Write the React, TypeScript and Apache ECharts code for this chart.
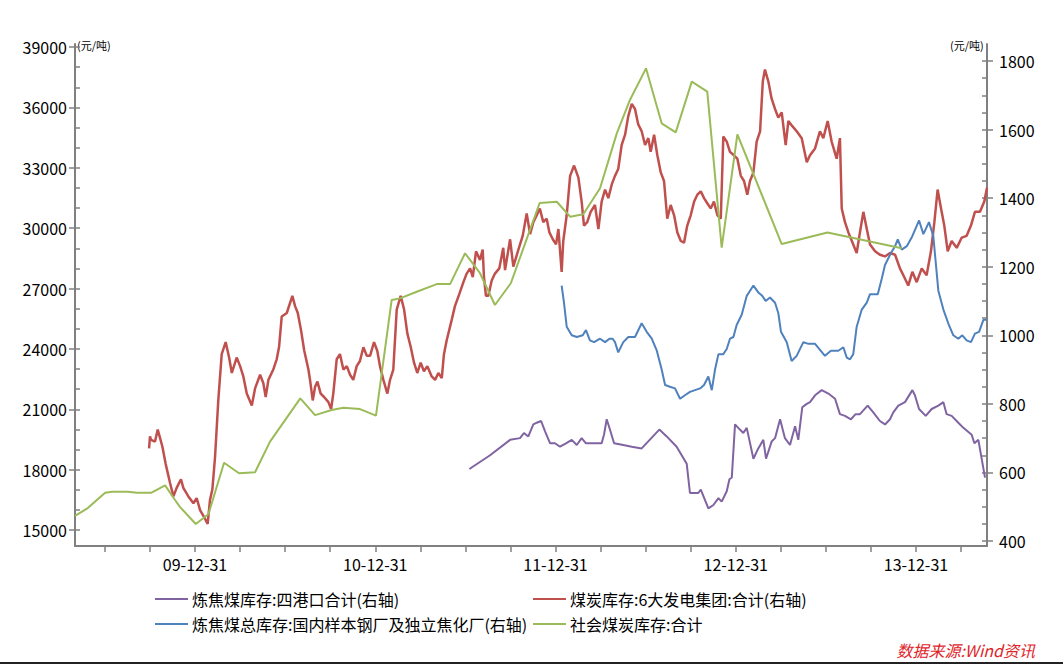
import React, { useEffect, useRef } from "react";
import * as echarts from "echarts";

// ---- texts ----
const seriesNames = [
  "炼焦煤库存:四港口合计(右轴)",
  "煤炭库存:6大发电集团:合计(右轴)",
  "炼焦煤总库存:国内样本钢厂及独立焦化厂(右轴)",
  "社会煤炭库存:合计",
];
const unitText = "(元/吨)";
const sourceText = "数据来源:Wind资讯";

// ---- axes (x in decimal years) ----
const xMin = 2009.334;
const xMax = 2014.394;
const xLabelYears = [2010, 2011, 2012, 2013, 2014];
const xLabelTexts = ["09-12-31", "10-12-31", "11-12-31", "12-12-31", "13-12-31"];
const xQuarterTicks = [
  2009.5, 2009.75, 2010, 2010.25, 2010.5, 2010.75, 2011, 2011.25, 2011.5, 2011.75,
  2012, 2012.25, 2012.5, 2012.75, 2013, 2013.25, 2013.5, 2013.75, 2014, 2014.25,
];
const leftMin = 14205;
const leftMax = 39150;
const leftLabels = [15000, 18000, 21000, 24000, 27000, 30000, 33000, 36000, 39000];
const leftMinorTicks = [
  15000, 16000, 17000, 18000, 19000, 20000, 21000, 22000, 23000, 24000, 25000, 26000, 27000,
  28000, 29000, 30000, 31000, 32000, 33000, 34000, 35000, 36000, 37000, 38000, 39000,
];
const rightMin = 385.4;
const rightMax = 1849.6;
const rightLabels = [400, 600, 800, 1000, 1200, 1400, 1600, 1800];
const rightMinorTicks = [
  400, 450, 500, 550, 600, 650, 700, 750, 800, 850, 900, 950, 1000, 1050, 1100, 1150, 1200,
  1250, 1300, 1350, 1400, 1450, 1500, 1550, 1600, 1650, 1700, 1750, 1800,
];

// ---- data: [decimal year, value] ----
const greenSocial = [
  [2009.334, 15700], [2009.405, 16090], [2009.501, 16850], [2009.541, 16900], [2009.628, 16900],
  [2009.677, 16850], [2009.756, 16850], [2009.834, 17220], [2009.889, 16490], [2009.917, 16140],
  [2010.004, 15300], [2010.074, 15780], [2010.161, 18340], [2010.244, 17820], [2010.333, 17870],
  [2010.416, 19390], [2010.584, 21540], [2010.666, 20710], [2010.758, 20960], [2010.823, 21080],
  [2010.915, 21010], [2011.004, 20680], [2011.091, 26430], [2011.137, 26510], [2011.230, 26840],
  [2011.341, 27220], [2011.415, 27220], [2011.498, 28750], [2011.581, 27760], [2011.664, 26180],
  [2011.752, 27260], [2011.825, 29080], [2011.912, 31250], [2012.007, 31310], [2012.081, 30570],
  [2012.154, 30690], [2012.247, 31980], [2012.340, 34710], [2012.413, 36370], [2012.502, 37940],
  [2012.589, 35210], [2012.667, 34760], [2012.756, 37280], [2012.842, 36780], [2012.922, 29030],
  [2013.009, 34660], [2013.255, 29210], [2013.509, 29780], [2013.921, 29000],
];

const redPower = [
  [2009.745, 670], [2009.750, 705], [2009.756, 695], [2009.778, 690], [2009.793, 725],
  [2009.806, 700], [2009.819, 675], [2009.837, 625], [2009.861, 570], [2009.880, 530],
  [2009.898, 555], [2009.922, 580], [2009.935, 555], [2009.963, 530], [2009.991, 510],
  [2010.009, 525], [2010.028, 490], [2010.055, 465], [2010.070, 450], [2010.083, 520],
  [2010.096, 550], [2010.111, 645], [2010.129, 810], [2010.148, 945], [2010.170, 980],
  [2010.189, 935], [2010.204, 890], [2010.231, 935], [2010.250, 910], [2010.268, 880],
  [2010.287, 830], [2010.315, 795], [2010.333, 845], [2010.361, 885], [2010.379, 860],
  [2010.392, 820], [2010.407, 870], [2010.434, 900], [2010.453, 930], [2010.466, 965],
  [2010.481, 1055], [2010.509, 1065], [2010.540, 1115], [2010.555, 1085], [2010.570, 1065],
  [2010.588, 1015], [2010.606, 955], [2010.629, 900], [2010.638, 870], [2010.653, 810],
  [2010.666, 850], [2010.679, 865], [2010.697, 830], [2010.716, 820], [2010.740, 805],
  [2010.755, 785], [2010.767, 830], [2010.786, 930], [2010.804, 945], [2010.823, 900],
  [2010.842, 910], [2010.860, 885], [2010.878, 870], [2010.897, 910], [2010.915, 925],
  [2010.934, 965], [2010.953, 940], [2010.971, 940], [2010.993, 980], [2011.011, 955],
  [2011.026, 910], [2011.045, 870], [2011.067, 830], [2011.082, 870], [2011.100, 900],
  [2011.119, 1075], [2011.141, 1115], [2011.160, 1075], [2011.178, 1005], [2011.197, 965],
  [2011.215, 920], [2011.233, 890], [2011.252, 920], [2011.270, 895], [2011.289, 910],
  [2011.313, 880], [2011.332, 870], [2011.350, 890], [2011.369, 875], [2011.381, 945],
  [2011.396, 985], [2011.424, 1045], [2011.442, 1085], [2011.466, 1120], [2011.489, 1155],
  [2011.507, 1180], [2011.526, 1195], [2011.541, 1170], [2011.559, 1245], [2011.581, 1220],
  [2011.596, 1250], [2011.603, 1170], [2011.614, 1115], [2011.627, 1115], [2011.646, 1160],
  [2011.664, 1180], [2011.688, 1195], [2011.710, 1255], [2011.720, 1190], [2011.748, 1280],
  [2011.766, 1200], [2011.794, 1250], [2011.818, 1290], [2011.840, 1355], [2011.859, 1295],
  [2011.877, 1330], [2011.896, 1350], [2011.913, 1370], [2011.932, 1330], [2011.951, 1340],
  [2011.966, 1300], [2011.985, 1280], [2012.003, 1265], [2012.016, 1310], [2012.034, 1185],
  [2012.043, 1275], [2012.062, 1350], [2012.081, 1465], [2012.103, 1495], [2012.127, 1460],
  [2012.145, 1390], [2012.158, 1320], [2012.176, 1330], [2012.195, 1360], [2012.219, 1380],
  [2012.238, 1310], [2012.256, 1390], [2012.275, 1425], [2012.293, 1400], [2012.312, 1440],
  [2012.330, 1465], [2012.348, 1485], [2012.367, 1555], [2012.386, 1585], [2012.404, 1640],
  [2012.423, 1675], [2012.441, 1660], [2012.459, 1615], [2012.478, 1595], [2012.497, 1555],
  [2012.515, 1575], [2012.528, 1535], [2012.547, 1585], [2012.565, 1525], [2012.584, 1475],
  [2012.602, 1450], [2012.620, 1340], [2012.639, 1380], [2012.658, 1350], [2012.676, 1300],
  [2012.695, 1275], [2012.713, 1270], [2012.731, 1320], [2012.750, 1350], [2012.769, 1390],
  [2012.787, 1410], [2012.806, 1420], [2012.824, 1400], [2012.842, 1385], [2012.861, 1370],
  [2012.879, 1390], [2012.898, 1350], [2012.917, 1340], [2012.931, 1580], [2012.950, 1565],
  [2012.968, 1535], [2012.990, 1525], [2013.009, 1515], [2013.028, 1465], [2013.046, 1450],
  [2013.064, 1410], [2013.079, 1450], [2013.098, 1475], [2013.116, 1565], [2013.135, 1595],
  [2013.150, 1740], [2013.162, 1775], [2013.181, 1740], [2013.199, 1690], [2013.218, 1660],
  [2013.236, 1635], [2013.255, 1650], [2013.277, 1555], [2013.292, 1625], [2013.314, 1610],
  [2013.338, 1595], [2013.366, 1575], [2013.394, 1505], [2013.412, 1525], [2013.440, 1545],
  [2013.467, 1595], [2013.486, 1575], [2013.510, 1625], [2013.532, 1565], [2013.560, 1515],
  [2013.578, 1575], [2013.588, 1370], [2013.606, 1330], [2013.625, 1300], [2013.652, 1265],
  [2013.671, 1240], [2013.689, 1300], [2013.708, 1360], [2013.727, 1310], [2013.745, 1265],
  [2013.773, 1245], [2013.800, 1235], [2013.828, 1230], [2013.856, 1240], [2013.884, 1235],
  [2013.911, 1195], [2013.930, 1175], [2013.957, 1145], [2013.980, 1185], [2014.004, 1155],
  [2014.032, 1195], [2014.059, 1175], [2014.083, 1245], [2014.102, 1330], [2014.120, 1425],
  [2014.139, 1370], [2014.157, 1320], [2014.176, 1245], [2014.198, 1275], [2014.226, 1255],
  [2014.254, 1285], [2014.281, 1290], [2014.305, 1320], [2014.327, 1360], [2014.355, 1360],
  [2014.379, 1390], [2014.394, 1430],
];

const blueSteel = [
  [2012.034, 1145], [2012.047, 1095], [2012.062, 1025], [2012.090, 1000], [2012.118, 995],
  [2012.151, 1000], [2012.169, 1015], [2012.191, 985], [2012.214, 980], [2012.247, 990],
  [2012.275, 980], [2012.299, 990], [2012.317, 990], [2012.330, 980], [2012.348, 950],
  [2012.376, 980], [2012.404, 995], [2012.441, 995], [2012.478, 1035], [2012.506, 1010],
  [2012.534, 990], [2012.562, 955], [2012.589, 900], [2012.608, 855], [2012.635, 850],
  [2012.663, 845], [2012.691, 815], [2012.718, 825], [2012.746, 835], [2012.774, 840],
  [2012.802, 845], [2012.824, 855], [2012.848, 880], [2012.867, 840], [2012.885, 900],
  [2012.904, 945], [2012.931, 945], [2012.950, 960], [2012.968, 990], [2012.987, 995],
  [2013.005, 1030], [2013.033, 1060], [2013.061, 1115], [2013.098, 1145], [2013.125, 1125],
  [2013.147, 1115], [2013.166, 1100], [2013.190, 1110], [2013.218, 1095], [2013.236, 1065],
  [2013.251, 1010], [2013.283, 980], [2013.310, 925], [2013.338, 940], [2013.375, 980],
  [2013.403, 975], [2013.440, 975], [2013.495, 940], [2013.528, 955], [2013.569, 955],
  [2013.597, 965], [2013.616, 935], [2013.634, 930], [2013.652, 945], [2013.671, 1025],
  [2013.699, 1075], [2013.727, 1095], [2013.745, 1120], [2013.788, 1120], [2013.810, 1165],
  [2013.828, 1205], [2013.861, 1240], [2013.884, 1260], [2013.899, 1280], [2013.921, 1250],
  [2013.949, 1260], [2013.976, 1285], [2014.017, 1335], [2014.041, 1295], [2014.072, 1330],
  [2014.096, 1290], [2014.124, 1130], [2014.152, 1075], [2014.179, 1035], [2014.207, 1000],
  [2014.235, 990], [2014.257, 1000], [2014.281, 985], [2014.305, 980], [2014.327, 1005],
  [2014.350, 1010], [2014.374, 1045], [2014.392, 1045],
];

const purplePorts = [
  [2011.522, 610], [2011.637, 650], [2011.748, 695], [2011.803, 700], [2011.825, 715],
  [2011.849, 705], [2011.877, 740], [2011.896, 745], [2011.920, 750], [2011.942, 720],
  [2011.970, 685], [2011.997, 685], [2012.025, 675], [2012.058, 685], [2012.090, 695],
  [2012.118, 680], [2012.145, 700], [2012.169, 685], [2012.201, 685], [2012.229, 685],
  [2012.256, 685], [2012.269, 710], [2012.284, 755], [2012.302, 725], [2012.325, 685],
  [2012.376, 680], [2012.423, 675], [2012.478, 670], [2012.576, 725], [2012.617, 705],
  [2012.672, 675], [2012.728, 625], [2012.746, 540], [2012.792, 540], [2012.806, 550],
  [2012.848, 495], [2012.876, 505], [2012.904, 525], [2012.922, 515], [2012.950, 545],
  [2012.965, 580], [2012.978, 585], [2012.996, 740], [2013.023, 725], [2013.042, 715],
  [2013.061, 730], [2013.098, 640], [2013.125, 670], [2013.153, 695], [2013.168, 640],
  [2013.199, 690], [2013.218, 700], [2013.246, 755], [2013.273, 700], [2013.301, 680],
  [2013.329, 735], [2013.347, 695], [2013.369, 790], [2013.394, 800], [2013.412, 805],
  [2013.440, 825], [2013.477, 840], [2013.514, 830], [2013.551, 815], [2013.578, 770],
  [2013.606, 765], [2013.639, 755], [2013.665, 770], [2013.689, 770], [2013.732, 795],
  [2013.763, 775], [2013.800, 750], [2013.828, 740], [2013.856, 755], [2013.874, 775],
  [2013.902, 795], [2013.939, 805], [2013.980, 840], [2013.994, 825], [2014.017, 785],
  [2014.054, 765], [2014.087, 785], [2014.124, 795], [2014.152, 805], [2014.170, 770],
  [2014.198, 765], [2014.235, 745], [2014.263, 730], [2014.309, 710], [2014.324, 685],
  [2014.346, 695], [2014.383, 585],
];

const colors = ["#8064A2", "#C0504D", "#4F81BD", "#9BBB59"];
const FONT = "'Noto Sans CJK SC', 'Noto Sans', sans-serif";

export default function App() {
  const ref = useRef<HTMLDivElement>(null);

  useEffect(() => {
    if (!ref.current) return;
    const chart = echarts.init(ref.current, undefined, { renderer: "svg" });
    const axisColor = "#808080";
    const axisLineStyle = { color: axisColor, width: 2 };
    const tickStyle = { color: axisColor, width: 1.5 };
    const labelStyle = { color: "#000", fontSize: 16, fontFamily: FONT };
    const plain = (v: number) => String(Math.round(v));

    const seriesData = [purplePorts, redPower, blueSteel, greenSocial];
    const axisIdx = [2, 2, 2, 0];
    const legendPos = [
      [155, 591],
      [533, 591],
      [155, 616],
      [533, 616],
    ];

    const option: any = {
      animation: false,
      backgroundColor: "#fff",
      grid: { left: 75, right: 76, top: 44, bottom: 118, containLabel: false },
      xAxis: {
        type: "value",
        min: xMin,
        max: xMax,
        splitLine: { show: false },
        axisLine: { show: true, lineStyle: axisLineStyle, onZero: false },
        axisTick: { show: true, customValues: xQuarterTicks, length: 6, lineStyle: tickStyle },
        axisLabel: {
          customValues: xLabelYears,
          margin: 10,
          ...labelStyle,
          formatter: (v: number) => {
            const i = xLabelYears.findIndex((y) => Math.abs(y - v) < 0.01);
            return i >= 0 ? xLabelTexts[i] : "";
          },
        },
      },
      yAxis: [
        {
          type: "value",
          position: "left",
          min: leftMin,
          max: leftMax,
          splitLine: { show: false },
          axisLine: { show: true, lineStyle: axisLineStyle },
          axisTick: { show: true, customValues: leftLabels, length: 6, lineStyle: tickStyle },
          axisLabel: { customValues: leftLabels, margin: 8, formatter: plain, ...labelStyle },
        },
        {
          type: "value",
          position: "left",
          min: leftMin,
          max: leftMax,
          splitLine: { show: false },
          axisLine: { show: false },
          axisTick: { show: true, inside: true, customValues: leftMinorTicks, length: 5, lineStyle: tickStyle },
          axisLabel: { show: false },
        },
        {
          type: "value",
          position: "right",
          min: rightMin,
          max: rightMax,
          splitLine: { show: false },
          axisLine: { show: true, lineStyle: axisLineStyle },
          axisTick: { show: true, customValues: rightLabels, length: 6, lineStyle: tickStyle },
          axisLabel: { customValues: rightLabels, margin: 12, formatter: plain, ...labelStyle },
        },
        {
          type: "value",
          position: "right",
          min: rightMin,
          max: rightMax,
          splitLine: { show: false },
          axisLine: { show: false },
          axisTick: { show: true, inside: true, customValues: rightMinorTicks, length: 5, lineStyle: tickStyle },
          axisLabel: { show: false },
        },
      ],
      legend: seriesNames.map((name, i) => ({
        data: [name],
        left: legendPos[i][0],
        top: legendPos[i][1],
        icon: "rect",
        itemWidth: 33,
        itemHeight: 2,
        padding: 0,
        selectedMode: false,
        textStyle: { color: "#000", fontSize: 16, fontFamily: FONT, padding: [0, 0, 0, -1] },
      })),
      series: seriesNames.map((name, i) => ({
        name,
        type: "line",
        yAxisIndex: axisIdx[i],
        data: seriesData[i],
        showSymbol: false,
        symbol: "none",
        smooth: false,
        color: colors[i],
        lineStyle: { color: colors[i], width: i === 1 ? 2.5 : 2 },
        clip: true,
      })),
      graphic: [
        {
          type: "text",
          left: 77,
          top: 39,
          style: { text: unitText, fill: "#000", font: `11px ${FONT}` },
        },
        {
          type: "text",
          left: 950,
          top: 39,
          style: { text: unitText, fill: "#000", font: `11px ${FONT}` },
        },
        {
          type: "text",
          right: 28,
          top: 642,
          style: { text: sourceText, fill: "#E0242A", font: `italic 16px ${FONT}` },
        },
        {
          type: "rect",
          left: 0,
          top: 662,
          shape: { width: 1063, height: 2 },
          style: { fill: "#222" },
        },
      ],
    };

    chart.setOption(option);
    return () => chart.dispose();
  }, []);

  return (
    <div
      ref={ref}
      style={{ position: "fixed", left: 0, top: 0, width: 1063, height: 664, background: "#fff" }}
    />
  );
}
